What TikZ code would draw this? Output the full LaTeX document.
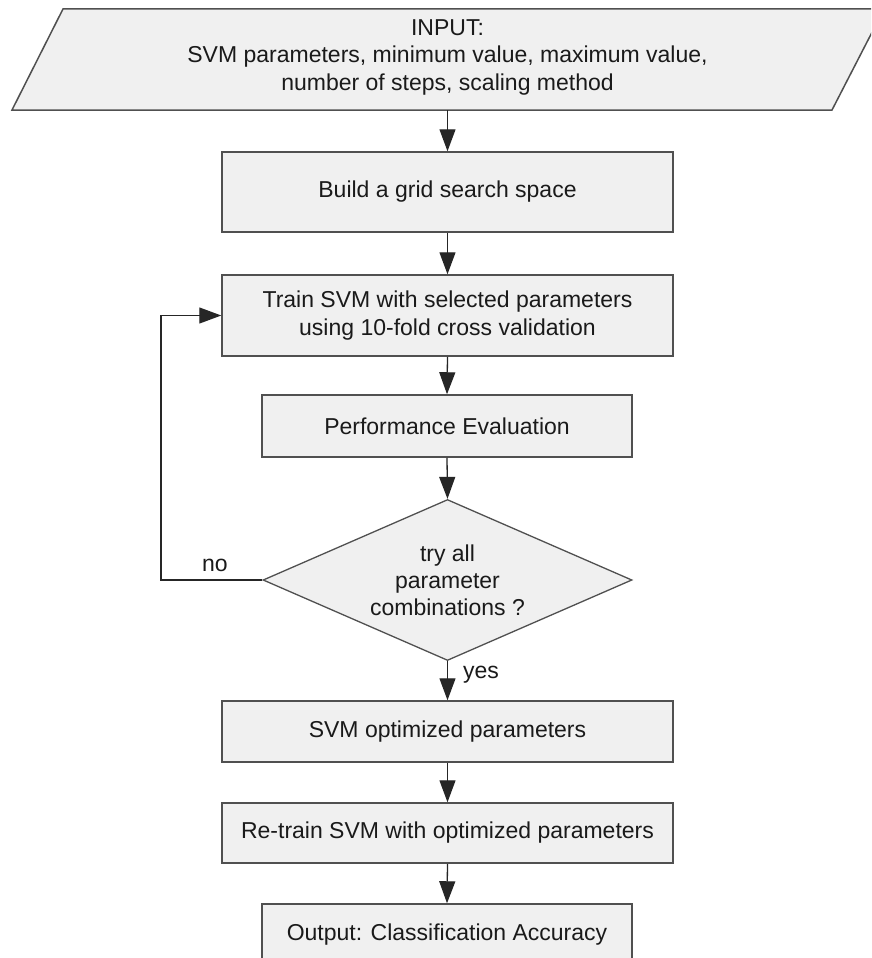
\documentclass[tikz,border=0pt]{standalone}
\usepackage{fontspec}
\setmainfont{Liberation Sans}
\usetikzlibrary{shapes.geometric,arrows.meta}
\definecolor{boxfill}{HTML}{F0F0F0}
\definecolor{boxline}{HTML}{505050}
\definecolor{txtcol}{HTML}{1A1A1A}
\begin{document}
\begin{tikzpicture}[x=1pt,y=-1pt,
  txtfont/.style={font=\fontsize{23}{28.7}\selectfont, text=txtcol},
  box/.style={draw=boxline, fill=boxfill, line width=1.5pt, inner sep=0pt,
    align=center, txtfont},
  dia/.style={shape=diamond, draw=boxline, fill=boxfill, line width=1.3pt,
    inner sep=0pt, minimum width=369pt, minimum height=161pt},
  lbl/.style={txtfont, inner sep=0pt, align=center},
  arr/.style={draw=black!85, line width=1.3pt,
    -{Triangle[length=22pt,width=16pt]}}
]
\useasboundingbox (0,0) rectangle (871,958);
\clip (0,0) rectangle (871,958);
\fill[white] (0,0) rectangle (871,958);

% input parallelogram
\draw[draw=boxline, fill=boxfill, line width=1.5pt]
  (63,9) -- (884,9) -- (832,110) -- (12,110) -- cycle;
\node[lbl, font=\fontsize{23}{27.5}\selectfont] (inp) at (447.5,57)
  {INPUT:\\SVM parameters, minimum value, maximum value,\\number of steps, scaling method};
\coordinate (inps) at (447.5,110);

\node[box, minimum width=451pt, minimum height=80pt] (b1) at (447.5,192) {Build a grid search space};
\node[box, minimum width=451pt, minimum height=81pt] (b2) at (447.5,315.5)
  {Train SVM with selected parameters\\using 10-fold cross validation};
\node[box, minimum width=370pt, minimum height=62pt] (perf) at (447,426) {Performance Evaluation};
\node[dia] (dec) at (447.5,580) {};
\node[lbl, font=\fontsize{23}{27}\selectfont] (dect) at (dec.center) {try all\\parameter\\combinations ?};
\node[box, minimum width=451pt, minimum height=61pt] (opt) at (447.5,731.5) {SVM optimized parameters};
\node[box, minimum width=451pt, minimum height=60pt] (ret) at (447.5,833) {Re-train SVM with optimized parameters};
\node[box, minimum width=370pt, minimum height=62pt] (out) at (447,935) {Output: Classification Accuracy};

\coordinate (lp) at (161,580);

\draw[arr] (inps) -- (b1.north);
\draw[arr] (b1.south) -- (b2.north);
\draw[arr] (b2.south) -- (perf.north);
\draw[arr] (perf.south) -- (dec.north);
\draw[arr] (dec.west) -- (lp) |- (b2.west);
\draw[arr] (dec.south) -- (opt.north);
\draw[arr] (opt.south) -- (ret.north);
\draw[arr] (ret.south) -- (out.north);

\node[lbl] (no) at (215,565) {no};
\node[lbl] (yes) at (481,675) {yes};
\end{tikzpicture}
\end{document}
